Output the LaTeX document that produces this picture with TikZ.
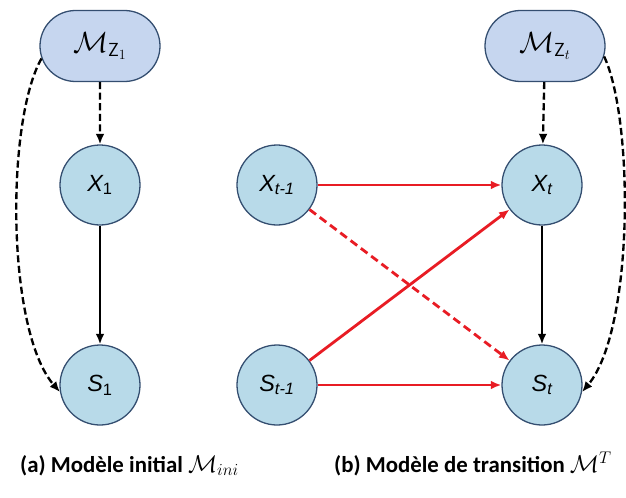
\documentclass[tikz,border=0pt]{standalone}
\usepackage{fontspec}
\setmainfont{Carlito}
\newfontfamily\nodefont{Liberation Sans}
\usetikzlibrary{shapes.misc,arrows.meta}
\definecolor{varfill}{RGB}{184,218,233}
\definecolor{modfill}{RGB}{198,214,239}
\definecolor{bordercol}{RGB}{52,78,112}
\definecolor{arcred}{RGB}{232,28,36}

\begin{document}
\begin{tikzpicture}[>={Latex[length=9pt,width=7.5pt]}, x=0.03cm, y=-0.03cm,
  var/.style={circle, draw=bordercol, fill=varfill, line width=1.1pt, minimum size=2.4cm, inner sep=0pt, font=\nodefont\itshape\fontsize{20}{22}\selectfont},
  model/.style={rounded rectangle, draw=bordercol, fill=modfill, line width=1.1pt, minimum width=3.6cm, minimum height=2.13cm, inner sep=0pt, font=\fontsize{23}{25}\selectfont},
  dep/.style={line width=2pt, dash pattern=on 6pt off 3pt, ->},
  link/.style={line width=2pt, ->},
  trans/.style={line width=2.4pt, arcred, ->}]
\useasboundingbox (0,0) rectangle (626,497);

% modele initial
\node[model] (mza) at (100,46) {$\mathcal{M}_{\mathsf{Z}_{1}}$};
\node[var] (xa) at (100,185) {X\textsubscript{\upshape 1}};
\node[var] (sa) at (100,385) {S\textsubscript{\upshape 1}};

\draw[dep] (mza) -- (xa);
\draw[link] (xa) -- (sa);
\draw[dep] (mza.192) .. controls (6,120) and (6,330) .. (sa.190);

% modele de transition
\node[var] (xp) at (277,185) {X\textsubscript{t-1}};
\node[var] (sp) at (277,385) {S\textsubscript{t-1}};
\node[model] (mzt) at (545,46) {$\mathcal{M}_{\mathsf{Z}_{t}}$};
\node[var] (xt) at (542,185) {X\textsubscript{t}};
\node[var] (st) at (542,385) {S\textsubscript{t}};

\draw[dep] (mzt) -- (xt);
\draw[link] (xt) -- (st);
\draw[dep] (mzt.-10) .. controls (634,120) and (634,330) .. (st.-10);

\draw[trans] (xp) -- (xt);
\draw[trans] (sp) -- (st);
\draw[trans] (sp) -- (xt);
\draw[trans, dash pattern=on 7pt off 4pt] (xp) -- (st);

\node[anchor=base west, font=\bfseries\fontsize{19.5}{22}\selectfont] (capa) at (16,472) {(a) Modèle initial $\mathcal{M}_{ini}$};
\node[anchor=base west, font=\bfseries\fontsize{19.5}{22}\selectfont] (capb) at (330,472) {(b) Modèle de transition $\mathcal{M}^{T}$};

\end{tikzpicture}
\end{document}
